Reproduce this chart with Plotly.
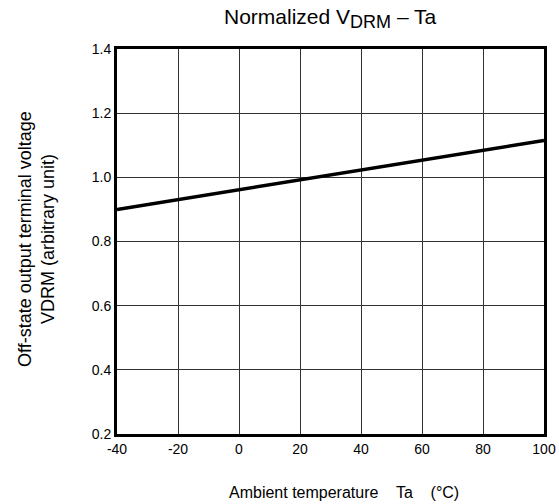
import plotly.graph_objects as go

ta = [-40, 100]
vdrm = [0.90, 1.115]
x_ticks = [-40, -20, 0, 20, 40, 60, 80, 100]
x_tick_text = ["-40", "-20", "0", "20", "40", "60", "80", "100"]
y_ticks = [0.2, 0.4, 0.6, 0.8, 1.0, 1.2, 1.4]
y_tick_text = ["0.2", "0.4", "0.6", "0.8", "1.0", "1.2", "1.4"]

W, H = 559, 504
L, R, T, B = 117, 15, 49, 70
PW, PH = W - L - R, H - T - B

def px(xf):
    return (xf - L) / PW

def py(yf):
    return (H - B - yf) / PH

fig = go.Figure()
fig.add_trace(go.Scatter(x=ta, y=vdrm, mode="lines",
                         line=dict(color="black", width=3.5), showlegend=False,
                         hoverinfo="skip"))

font = "Liberation Sans, Arial, sans-serif"
fig.update_layout(
    width=W, height=H,
    margin=dict(l=L, r=R, t=T, b=B, autoexpand=False),
    paper_bgcolor="white", plot_bgcolor="white",
    font=dict(family=font, color="black", size=14),
    annotations=[
        dict(text="Normalized V<sub><span style='font-size:18px'>DRM</span></sub> – Ta",
             xref="paper", yref="paper", x=px(330), y=py(18),
             xanchor="center", yanchor="middle", showarrow=False, font=dict(size=21)),
        dict(text="Ambient temperature    Ta    (°C)",
             xref="paper", yref="paper", x=px(344), y=py(492),
             xanchor="center", yanchor="middle", showarrow=False, font=dict(size=16)),
        dict(text="Off-state output terminal voltage<br>VDRM (arbitrary unit)",
             xref="paper", yref="paper", x=px(36), y=py(239),
             xanchor="center", yanchor="middle", showarrow=False, textangle=-90,
             font=dict(size=18)),
    ],
)
fig.update_xaxes(range=[-40, 100], tickvals=x_ticks, ticktext=x_tick_text, showgrid=True,
                 gridcolor="#333", gridwidth=1, showline=True, linecolor="black", linewidth=3,
                 mirror=True, ticks="", zeroline=False, tickfont=dict(size=14), automargin=False)
fig.update_yaxes(range=[0.2, 1.4], tickvals=y_ticks, ticktext=y_tick_text, showgrid=True,
                 gridcolor="#333", gridwidth=1, showline=True, linecolor="black", linewidth=3,
                 mirror=True, ticks="", zeroline=False, tickfont=dict(size=14), automargin=False)
fig.write_html(
    "out.html",
    config={"displayModeBar": False},
    post_script=(
        "document.body.style.margin='0';"
        "document.body.style.overflow='hidden';"
        "document.documentElement.style.overflow='hidden';"
    ),
)
